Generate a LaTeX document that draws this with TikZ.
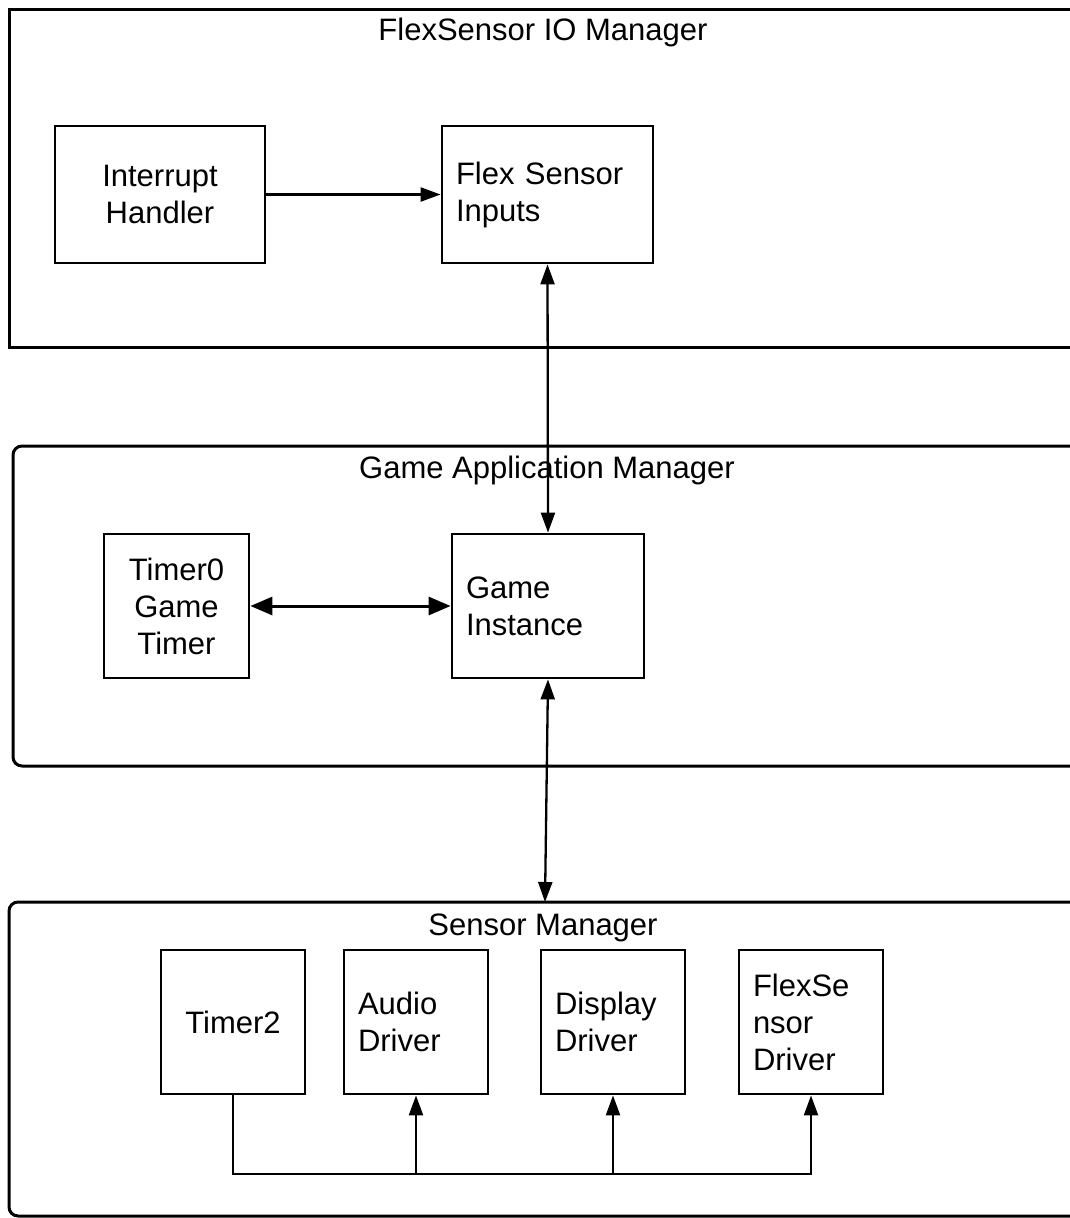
\documentclass[tikz,border=0pt]{standalone}
\usepackage{fontspec}
\setmainfont{Liberation Sans}
\usetikzlibrary{arrows.meta}
\begin{document}
\begin{tikzpicture}[x=1pt,y=-1pt,
  every node/.style={font=\fontsize{31}{37}\selectfont},
  container/.style={draw,line width=3pt},
  lbox/.style={draw,line width=2.8pt,inner xsep=14pt,inner ysep=0pt,align=left},
  cbox/.style={draw,line width=2.8pt,inner xsep=0pt,inner ysep=0pt,align=center},
  conn/.style={line width=2.3pt,-{Triangle[length=20pt,width=14pt]}},
  dconn/.style={line width=2.3pt,{Triangle[length=20pt,width=14pt]}-{Triangle[length=20pt,width=14pt]}},
  bconn/.style={line width=3pt,{Triangle[length=22pt,width=18pt]}-{Triangle[length=22pt,width=18pt]}},
  title/.style={anchor=base}
]
\clip (0,0) rectangle (1070,1218);
\fill[white] (0,0) rectangle (1070,1218);

% containers
\draw[container] (9,9) rectangle (1090,347);
\draw[container,rounded corners=9pt] (13,446) rectangle (1090,766);
\draw[container,rounded corners=9pt] (9,902) rectangle (1090,1216);

\node[title] (t1) at (543,40) {FlexSensor IO Manager};
\node[title] (t2) at (547,478) {Game Application Manager};
\node[title] (t3) at (543,935) {Sensor Manager};

% boxes
\node[cbox,minimum width=210pt,minimum height=137pt,text width=210pt] (ih) at (160,194.5) {Interrupt\\Handler};
\node[lbox,minimum width=211pt,minimum height=137pt,text width=183pt] (fs) at (547.5,194.5) {Flex Sensor\\Inputs};
\node[cbox,minimum width=145pt,minimum height=144pt,text width=145pt] (tg) at (176.5,606) {Timer0\\Game\\Timer};
\node[lbox,minimum width=192pt,minimum height=144pt,text width=164pt] (gi) at (548,606) {Game\\Instance};

\node[cbox,minimum width=144pt,minimum height=144pt,text width=144pt] (tm) at (233,1022) {Timer2};
\node[lbox,minimum width=144pt,minimum height=144pt,text width=116pt] (au) at (416,1022) {Audio\\Driver};
\node[lbox,minimum width=144pt,minimum height=144pt,text width=116pt] (di) at (613,1022) {Display\\Driver};
\node[lbox,minimum width=144pt,minimum height=144pt,text width=116pt] (fd) at (811,1022) {FlexSe\\nsor\\Driver};

\coordinate (smtop) at (545,902);
\coordinate (busend) at (812,1174);

% connectors
\draw[conn] (ih.east) -- (fs.west);
\draw[dconn] (fs.south) -- (gi.north);
\draw[bconn] (tg.east) -- (gi.west);
\draw[dconn] (gi.south) -- (smtop);

\draw[line width=2.3pt] (tm.south) |- (busend);
\draw[conn] (au.south |- busend) -- (au.south);
\draw[conn] (di.south |- busend) -- (di.south);
\draw[conn] (fd.south |- busend) -- (fd.south);
\end{tikzpicture}
\end{document}
